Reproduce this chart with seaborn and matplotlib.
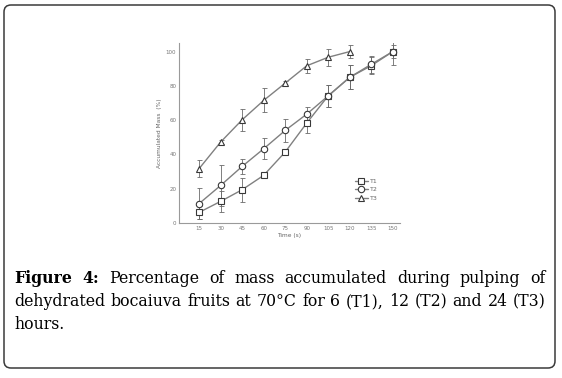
import numpy as np
import pandas as pd
import seaborn as sns
import matplotlib.pyplot as plt
from matplotlib.lines import Line2D
from matplotlib.patches import FancyBboxPatch

# ------------------------------------------------------------
# Data
# ------------------------------------------------------------
time_s = [15, 30, 45, 60, 75, 90, 105, 120, 135, 150]
t1 = [6.2, 12.6, 19.4, 27.8, 41.4, 58.3, 74.2, 85.0, 91.8, 100.0]
t1_err = [4, 6, 7, 1, 1, 6, 6.5, 7, 5, 8]
t2 = [11.3, 21.9, 33.0, 43.3, 54.0, 63.5, 74.2, 85.0, 92.6, 100.0]
t2_err = [9, 12, 4.5, 6, 6.5, 4, 6.5, 7, 5, 4]
t3_time = [15, 30, 45, 60, 75, 90, 105, 120]
t3 = [31.7, 47.2, 60.2, 71.5, 81.6, 91.7, 96.7, 100.0]
t3_err = [5, 1, 6.5, 7, 1.5, 4, 5, 4]

x_ticks = [15, 30, 45, 60, 75, 90, 105, 120, 135, 150]
y_ticks = [0, 20, 40, 60, 80, 100]
labels = ["T1", "T2", "T3"]

rows = []
for t, v, e in zip(time_s, t1, t1_err):
    rows.append(["T1", t, v, e])
for t, v, e in zip(time_s, t2, t2_err):
    rows.append(["T2", t, v, e])
for t, v, e in zip(t3_time, t3, t3_err):
    rows.append(["T3", t, v, e])
df = pd.DataFrame(rows, columns=["treatment", "time", "mass", "err"])

# ------------------------------------------------------------
# Figure
# ------------------------------------------------------------
sns.set_theme(style="white")
plt.rcParams["font.family"] = ["DejaVu Sans"]

W, H = 562, 378
fig = plt.figure(figsize=(W / 100, H / 100), dpi=100)
fig.patch.set_facecolor("white")

# outer rounded frame
frame = FancyBboxPatch((0.04, 0.10), 5.51, 3.63,
                       boxstyle="round,pad=0,rounding_size=0.07",
                       transform=fig.dpi_scale_trans, fill=False,
                       edgecolor="#3a3a3a", linewidth=1.1)
fig.patches.append(frame)

ax = fig.add_axes([179 / W, 1 - 223 / H, 221 / W, 180 / H])

line_col = "#808080"
edge_col = "#383838"
markers = {"T1": "s", "T2": "o", "T3": "^"}

sns.lineplot(data=df, x="time", y="mass", hue="treatment", style="treatment",
             markers=markers, dashes=False,
             palette={k: line_col for k in labels},
             markersize=4.6, markerfacecolor="white", markeredgecolor=edge_col,
             markeredgewidth=0.8, linewidth=1.0, legend=False, ax=ax,
             errorbar=None)

for lab in labels:
    sub = df[df["treatment"] == lab]
    ax.errorbar(sub["time"], sub["mass"], yerr=sub["err"], fmt="none",
                ecolor="#6a6a6a", elinewidth=0.6, capsize=1.8,
                capthick=0.6, zorder=1)

ax.set_xlim(1, 155)
ax.set_ylim(0, 105)
ax.set_xticks(x_ticks)
ax.set_yticks(y_ticks)
ax.tick_params(axis="both", length=0, pad=2, labelsize=4, labelcolor="#777777")
ax.set_xlabel("Time (s)", fontsize=4.2, color="#666666", labelpad=1.5)
ax.set_ylabel("Accumulated Mass  (%)", fontsize=4.2, color="#666666",
              labelpad=3)
sns.despine(ax=ax)
for s in ["left", "bottom"]:
    ax.spines[s].set_color("#9a9a9a")
    ax.spines[s].set_linewidth(0.8)
ax.set_facecolor("white")

handles = [Line2D([], [], color=line_col, marker=markers[k], markersize=4.6,
                  markerfacecolor="white", markeredgecolor=edge_col,
                  markeredgewidth=0.8, linewidth=1.0) for k in labels]
ax.legend(handles, labels, loc="upper left", bbox_to_anchor=(0.78, 0.265),
          frameon=False, fontsize=4.5, handlelength=2.2, labelspacing=0.5,
          handletextpad=0.3, borderpad=0, labelcolor="#666666")

# ------------------------------------------------------------
# Caption (justified lines)
# ------------------------------------------------------------
cap_font = "DejaVu Serif"
x_left, x_right = 14, 546

line1 = [("Figure", "bold"), ("4:", "bold"), ("Percentage", "normal"),
         ("of", "normal"), ("mass", "normal"), ("accumulated", "normal"),
         ("during", "normal"), ("pulping", "normal"), ("of", "normal")]
line2_text = "dehydrated bocaiuva fruits at 70°C for 6 (T1), 12 (T2) and 24 (T3)"
line2 = [(w, "normal") for w in line2_text.split()]
line3 = "hours."

fig.canvas.draw()
renderer = fig.canvas.get_renderer()

# pick a size so the second line fills the text width naturally
probe = fig.text(0, 0, line2_text, fontsize=10, family=cap_font)
cap_size = 10 * 526 / probe.get_window_extent(renderer).width
probe.remove()


def justify(words, base_y):
    objs = [fig.text(0, 1 - base_y / H, w, fontsize=cap_size,
                     family=cap_font, weight=wt, color="black",
                     va="baseline", ha="left") for w, wt in words]
    widths = [o.get_window_extent(renderer).width for o in objs]
    gap = ((x_right - x_left) - sum(widths)) / (len(objs) - 1)
    x = x_left
    for o, w in zip(objs, widths):
        o.set_x(x / W)
        x += w + gap


justify(line1, 283)
justify(line2, 306)
fig.text(x_left / W, 1 - 329 / H, line3, fontsize=cap_size, family=cap_font,
         color="black", va="baseline", ha="left")

fig.savefig("out.png", dpi=100)
